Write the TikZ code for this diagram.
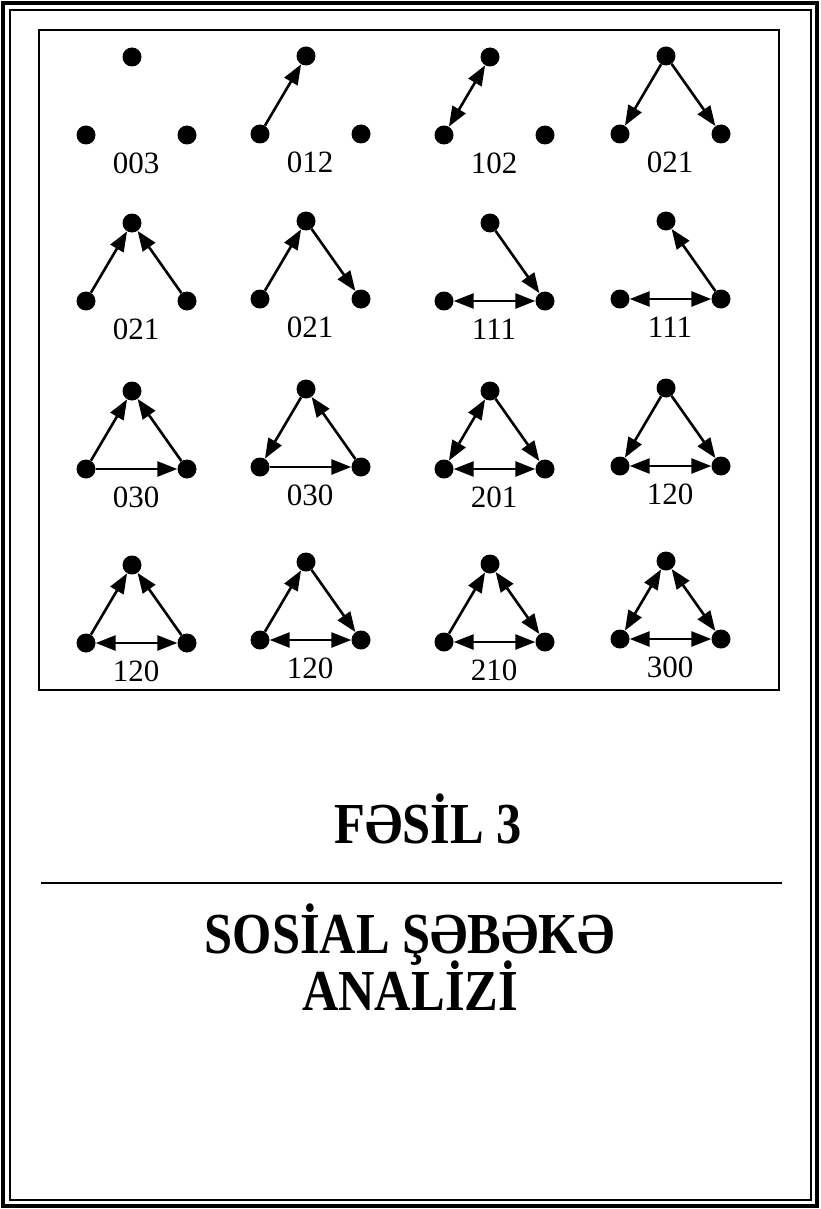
\documentclass[tikz,border=0pt]{standalone}
\usepackage{fontspec}
\setmainfont{Liberation Serif}
\newfontfamily\ttlfont[FakeStretch=0.87]{Liberation Serif}
\usetikzlibrary{arrows.meta}
\tikzset{
  dot/.style    = {circle, fill=black, minimum size=19pt, inner sep=0pt},
  lbl/.style    = {font=\fontsize{31}{33}\selectfont},
  tie/.style    = {line width=2.6pt, -{Triangle[length=20pt, width=15pt]}},
  mutual/.style = {line width=2.6pt,
                   {Triangle[length=20pt, width=15pt]}-{Triangle[length=20pt, width=15pt]}},
  ttl/.style    = {font=\ttlfont\fontsize{58}{62}\selectfont\bfseries, anchor=base},
  frame/.style  = {line width=2.4pt},
}
\begin{document}
\begin{tikzpicture}[x=1pt, y=-1pt]
\useasboundingbox (0,0) rectangle (821,1209);
\newcommand{\triad}[4]{% x, y of top dot, name, label
  \begin{scope}[shift={(#1,#2)}]
    \node[dot] (#3t) at (0,0) {};
    \node[dot] (#3l) at (-46,78) {};
    \node[dot] (#3r) at (55,78) {};
    \node[lbl] (#3n) at (4,106) {#4};
  \end{scope}}
% page frame and figure box
\draw[line width=3.5pt] (3,3) rectangle (817,1206);
\draw[line width=2.2pt] (10,10) rectangle (811,1200);
\draw[frame] (39,30) rectangle (779,690);
% the sixteen triads
\triad{132}{57}{a1}{003}
\triad{306}{56}{a2}{012}
\triad{490}{57}{a3}{102}
\triad{666}{56}{a4}{021}
\triad{132}{223}{b1}{021}
\triad{306}{221}{b2}{021}
\triad{490}{223}{b3}{111}
\triad{666}{221}{b4}{111}
\triad{132}{391}{c1}{030}
\triad{306}{389}{c2}{030}
\triad{490}{391}{c3}{201}
\triad{666}{388}{c4}{120}
\triad{132}{565}{d1}{120}
\triad{306}{562}{d2}{120}
\triad{490}{564}{d3}{210}
\triad{666}{561}{d4}{300}
% ties
\draw[tie] (a2l) -- (a2t);
\draw[mutual] (a3l) -- (a3t);
\draw[tie] (a4t) -- (a4l);  \draw[tie] (a4t) -- (a4r);
\draw[tie] (b1l) -- (b1t);  \draw[tie] (b1r) -- (b1t);
\draw[tie] (b2l) -- (b2t);  \draw[tie] (b2t) -- (b2r);
\draw[tie] (b3t) -- (b3r);  \draw[mutual] (b3l) -- (b3r);
\draw[tie] (b4r) -- (b4t);  \draw[mutual] (b4l) -- (b4r);
\draw[tie] (c1l) -- (c1t);  \draw[tie] (c1r) -- (c1t);  \draw[tie] (c1l) -- (c1r);
\draw[tie] (c2t) -- (c2l);  \draw[tie] (c2r) -- (c2t);  \draw[tie] (c2l) -- (c2r);
\draw[mutual] (c3l) -- (c3t);  \draw[tie] (c3t) -- (c3r);  \draw[mutual] (c3l) -- (c3r);
\draw[tie] (c4t) -- (c4l);  \draw[tie] (c4t) -- (c4r);  \draw[mutual] (c4l) -- (c4r);
\draw[tie] (d1l) -- (d1t);  \draw[tie] (d1r) -- (d1t);  \draw[mutual] (d1l) -- (d1r);
\draw[tie] (d2l) -- (d2t);  \draw[tie] (d2t) -- (d2r);  \draw[mutual] (d2l) -- (d2r);
\draw[tie] (d3l) -- (d3t);  \draw[mutual] (d3t) -- (d3r);  \draw[mutual] (d3l) -- (d3r);
\draw[mutual] (d4l) -- (d4t);  \draw[mutual] (d4t) -- (d4r);  \draw[mutual] (d4l) -- (d4r);
% chapter title
\node[ttl] (chap) at (428,843) {FƏSİL 3};
\draw[frame] (41,883) -- (782,883);
\node[ttl] (name1) at (410,953) {SOSİAL ŞƏBƏKƏ};
\node[ttl] (name2) at (410,1010) {ANALİZİ};
\end{tikzpicture}
\end{document}
